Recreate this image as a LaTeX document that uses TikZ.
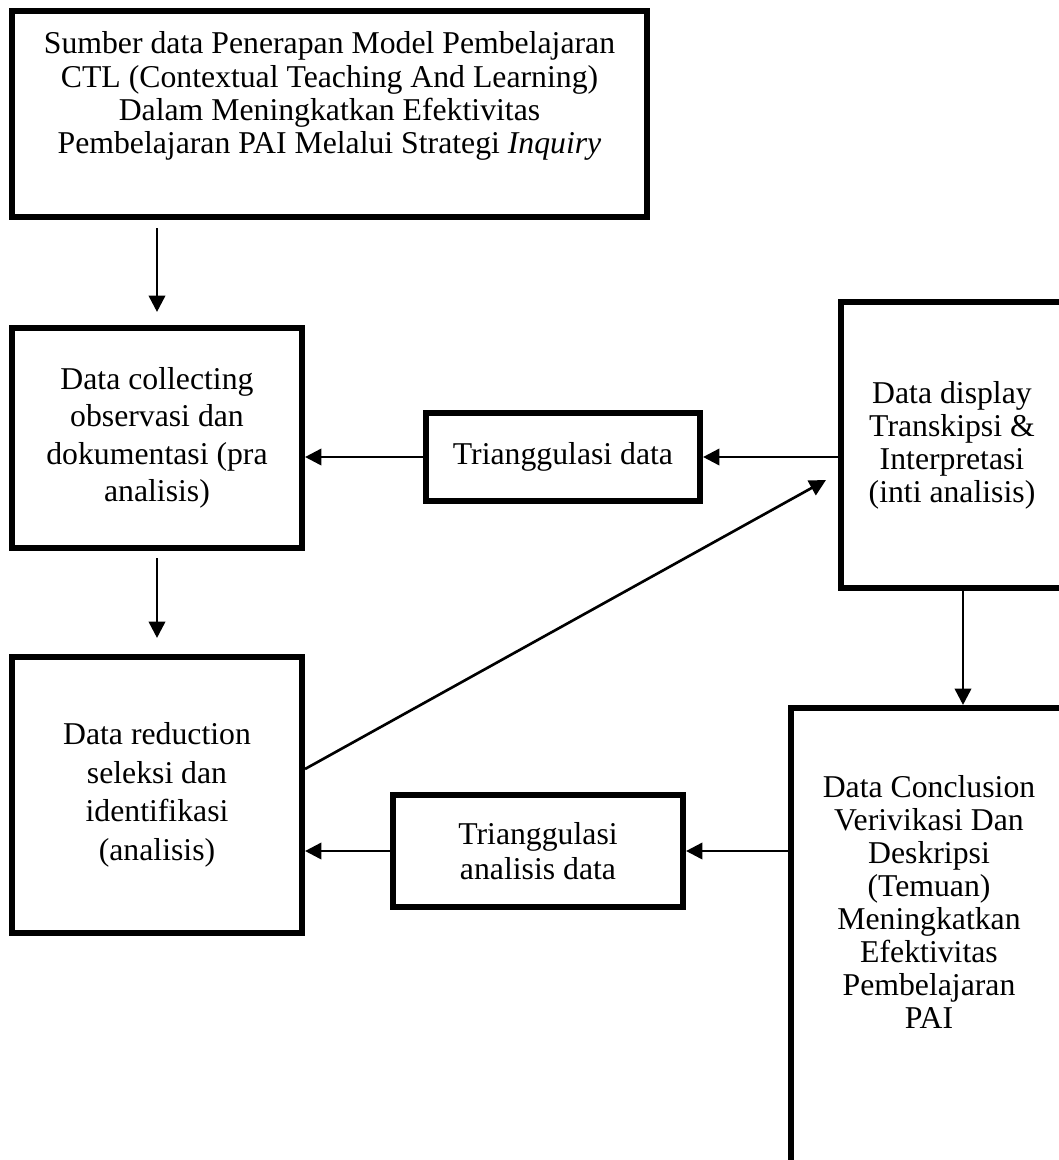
\documentclass[tikz,border=0pt]{standalone}
\usepackage{fontspec}
\setmainfont{Liberation Serif}
\usetikzlibrary{arrows.meta, positioning, calc}
\newcommand{\pxu}{0.378pt}
\tikzset{
    box/.style={draw, line width=2.3pt, inner sep=0pt, align=center,
        font=\fontsize{12pt}{12.5pt}\selectfont},
    loose/.style={font=\fontsize{12pt}{14.2pt}\selectfont},
    txt/.style={align=center, inner sep=0pt, font=\fontsize{12pt}{12.5pt}\selectfont},
    flow/.style={-{Triangle[length=6.2pt, width=6.2pt]}, line width=1pt}
}

\begin{document}
\begin{tikzpicture}[x=\pxu, y=-\pxu]
    \useasboundingbox (0,0) rectangle (1059,1160);
    \clip (0,0) rectangle (1059,1160);

    % boxes
    \node[box, minimum width=635*\pxu, minimum height=206*\pxu] (src) at (329.5,114) {};
    \node[txt] (srctext) at (329.5,96) {Sumber data Penerapan Model Pembelajaran\\
        CTL (Contextual Teaching And Learning)\\ Dalam Meningkatkan Efektivitas\\
        Pembelajaran PAI Melalui Strategi \textit{Inquiry}};
    \node[box, loose, minimum width=290*\pxu, minimum height=220*\pxu] (collect) at (157,438)
        {Data collecting\\ observasi dan\\ dokumentasi (pra\\ analisis)};
    \node[box, font=\fontsize{12pt}{14.6pt}\selectfont, minimum width=290*\pxu,
        minimum height=276*\pxu] (reduce) at (157,795)
        {Data reduction\\ seleksi dan\\ identifikasi\\ (analisis)};
    \node[box, minimum width=274*\pxu, minimum height=88*\pxu] (triData) at (563,457)
        {Trianggulasi data};
    \node[box, minimum width=222*\pxu, minimum height=286*\pxu] (display) at (952,445)
        {Data display\\ Transkipsi \&\\ Interpretasi\\ (inti analisis)};
    \node[box, font=\fontsize{12pt}{13.3pt}\selectfont, minimum width=290*\pxu,
        minimum height=112*\pxu] (triAnalisis) at (538,851) {Trianggulasi\\ analisis data};
    \node[box, minimum width=276*\pxu, minimum height=560*\pxu] (concl) at (929,988) {};
    \node[txt] (concltext) at (929,902) {Data Conclusion\\ Verivikasi Dan\\ Deskripsi\\
        (Temuan)\\ Meningkatkan\\ Efektivitas\\ Pembelajaran\\ PAI};

    % arrows
    \draw[flow, shorten <=8*\pxu, shorten >=13*\pxu] (collect.north |- src.south) -- (collect.north);
    \draw[flow, shorten <=7*\pxu, shorten >=16*\pxu] (collect.south) -- (reduce.north);
    \draw[flow] (display.west |- triData.east) -- (triData.east);
    \draw[flow] (triData.west) -- (triData.west -| collect.east);
    \coordinate (diagtip) at (826,480);
    \draw[flow] ($(reduce.east)+(0,-26)$) -- (diagtip);
    \coordinate (dispout) at ([xshift=11*\pxu]display.south);
    \draw[flow] (dispout) -- (dispout |- concl.north);
    \draw[flow] (concl.west |- triAnalisis.east) -- (triAnalisis.east);
    \draw[flow] (triAnalisis.west) -- (triAnalisis.west -| reduce.east);
\end{tikzpicture}
\end{document}
